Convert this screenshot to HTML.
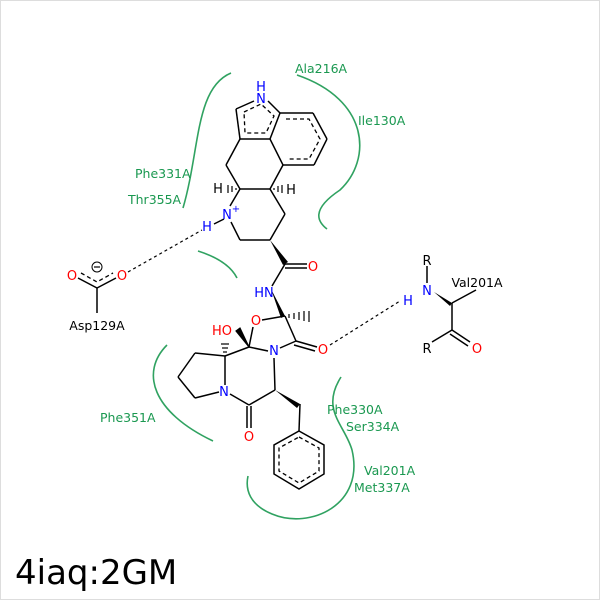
<!DOCTYPE html>
<html><head><style>
html,body{margin:0;padding:0;background:#fff;}
svg text{font-family:"DejaVu Sans","Liberation Sans",sans-serif;}
</style></head><body>
<svg width="600" height="600" viewBox="0 0 600 600" xmlns="http://www.w3.org/2000/svg">
<rect x="0.5" y="0.5" width="599" height="599" fill="#fff" stroke="#ddd"/>
<g fill="none" stroke="#1a9850" stroke-width="1.6" stroke-opacity="0.9">
<path d="M231,73 C195,88 200,150 183,208"/>
<path d="M297,75 C370,100 372,160 340,190 C310,210 318,222 327,229"/>
<path d="M198,251 C220,258 232,268 237,278"/>
<path d="M167,345 C140,372 152,412 213,441"/>
<path d="M341,377 C320,410 345,425 352,450 C365,505 310,530 272,514 C250,505 245,490 248,476"/>
</g>
<g fill="#1a9850" font-size="12.5">
<text x="295" y="73">Ala216A</text>
<text x="358" y="125">Ile130A</text>
<text x="135" y="178">Phe331A</text>
<text x="128" y="204">Thr355A</text>
<text x="100" y="422">Phe351A</text>
<text x="327" y="414">Phe330A</text>
<text x="346" y="431">Ser334A</text>
<text x="364" y="475">Val201A</text>
<text x="354" y="492">Met337A</text>
</g>
<g stroke="#000" stroke-width="1.5" fill="none">
<line x1="236" y1="109" x2="254" y2="101"/>
<line x1="268" y1="101" x2="280" y2="113"/>
<line x1="236" y1="109" x2="240" y2="139"/>
<line x1="240" y1="139" x2="270" y2="139"/>
<line x1="270" y1="139" x2="280" y2="113"/>
<line x1="280" y1="113" x2="313" y2="113"/>
<line x1="313" y1="113" x2="327" y2="139"/>
<line x1="327" y1="139" x2="314" y2="165"/>
<line x1="314" y1="165" x2="283" y2="165"/>
<line x1="283" y1="165" x2="270" y2="139"/>
<line x1="240" y1="139" x2="226" y2="165"/>
<line x1="226" y1="165" x2="240" y2="189"/>
<line x1="240" y1="189" x2="270" y2="189"/>
<line x1="270" y1="189" x2="283" y2="165"/>
<line x1="270" y1="189" x2="285" y2="214"/>
<line x1="285" y1="214" x2="270" y2="240"/>
<line x1="270" y1="240" x2="240" y2="240"/>
<line x1="240" y1="240" x2="231" y2="222"/>
<line x1="240" y1="189" x2="230" y2="206"/>
<line x1="224" y1="219" x2="214" y2="224"/>
<line x1="285" y1="264" x2="307" y2="264"/>
<line x1="285" y1="268" x2="307" y2="268"/>
<line x1="285" y1="264" x2="272" y2="286"/>
<line x1="262" y1="320" x2="285" y2="316"/>
<line x1="253" y1="327" x2="249" y2="347"/>
<line x1="249" y1="347" x2="268" y2="351"/>
<line x1="280" y1="348" x2="296" y2="341"/>
<line x1="285" y1="316" x2="296" y2="341"/>
<line x1="296" y1="341" x2="317" y2="347"/>
<line x1="294" y1="345" x2="315" y2="351"/>
<line x1="249" y1="347" x2="225" y2="356"/>
<line x1="225" y1="356" x2="195" y2="353"/>
<line x1="195" y1="353" x2="178" y2="377"/>
<line x1="178" y1="377" x2="195" y2="398"/>
<line x1="195" y1="398" x2="219" y2="392"/>
<line x1="225" y1="356" x2="225" y2="385"/>
<line x1="230" y1="394" x2="249" y2="405"/>
<line x1="249" y1="405" x2="275" y2="390"/>
<line x1="275" y1="390" x2="274" y2="358"/>
<line x1="247" y1="406" x2="247" y2="428"/>
<line x1="251" y1="406" x2="251" y2="428"/>
<line x1="300" y1="404" x2="299" y2="431"/>
<polygon points="299,431 324,445 324,474 299,489 274,474 274,445"/>
<line x1="78" y1="278" x2="97" y2="288"/>
<line x1="116" y1="278" x2="97" y2="288"/>
<line x1="97" y1="288" x2="97" y2="313"/>
<line x1="427" y1="266" x2="427" y2="283"/>
<line x1="452" y1="303" x2="452" y2="330"/>
<line x1="452" y1="303" x2="476" y2="290"/>
<line x1="452" y1="330" x2="432" y2="342"/>
<line x1="452" y1="330" x2="470" y2="342"/>
<line x1="450" y1="334" x2="468" y2="346"/>
</g>
<g stroke="#000" stroke-width="1.3" fill="none" stroke-dasharray="4,3">
<path d="M244,112 L261,104 L274,116 L266,133 L245,133 Z"/>
<path d="M286,119 L309,119 L320,139 L309,159 L287,159"/>
<polygon points="299,437 319,448 319,471 299,483 279,471 279,448"/>
<path d="M81,273 L97,282 L113,273"/>
</g>
<g stroke="#000" stroke-width="1.2" stroke-dasharray="3,3" fill="none">
<line x1="128" y1="272" x2="202" y2="230"/>
<line x1="330" y1="345" x2="400" y2="301"/>
</g>
<g fill="#000">
<polygon points="270,240 283,265 288,262"/>
<polygon points="271,289 285,316 281,318"/>
<polygon points="275,390 300,404 297,408"/>
<polygon points="434,292 452,303 450,306"/>
</g>
<g stroke="#000" stroke-width="1.2">
<line x1="289" y1="314" x2="289" y2="318"/><line x1="294" y1="313" x2="294" y2="319"/><line x1="299" y1="312" x2="299" y2="320"/><line x1="304" y1="311" x2="304" y2="321"/><line x1="309" y1="311" x2="309" y2="322"/>
<line x1="236" y1="188" x2="236" y2="190"/><line x1="232" y1="186" x2="232" y2="192"/><line x1="228" y1="185" x2="228" y2="193"/>
<line x1="274" y1="188" x2="274" y2="190"/><line x1="278" y1="186" x2="278" y2="192"/><line x1="282" y1="185" x2="282" y2="193"/>
<line x1="223" y1="352" x2="227" y2="352"/><line x1="222" y1="348" x2="228" y2="348"/><line x1="221" y1="344" x2="229" y2="344"/>
<polygon points="249,347 236,331 240,328"/>
</g>
<g font-size="13" text-anchor="middle">
<text x="261" y="91" fill="#0000ff">H</text>
<text x="261" y="103" fill="#0000ff">N</text>
<text x="218" y="193" fill="#000">H</text>
<text x="291" y="194" fill="#000">H</text>
<text x="227" y="219" fill="#0000ff">N</text>
<text x="236" y="212" fill="#0000ff" font-size="10">+</text>
<text x="207" y="231" fill="#0000ff">H</text>
<text x="313" y="271" fill="#ff0000">O</text>
<text x="264" y="297" fill="#0000ff">HN</text>
<text x="256" y="325" fill="#ff0000">O</text>
<text x="222" y="335" fill="#ff0000">HO</text>
<text x="274" y="355" fill="#0000ff">N</text>
<text x="323" y="354" fill="#ff0000">O</text>
<text x="224" y="396" fill="#0000ff">N</text>
<text x="249" y="441" fill="#ff0000">O</text>
<text x="72" y="280" fill="#ff0000">O</text>
<text x="122" y="280" fill="#ff0000">O</text>
<text x="97" y="330" fill="#000" font-size="12.5">Asp129A</text>
<text x="427" y="265" fill="#000">R</text>
<text x="427" y="295" fill="#0000ff">N</text>
<text x="408" y="305" fill="#0000ff">H</text>
<text x="477" y="287" fill="#000" font-size="12.5">Val201A</text>
<text x="427" y="353" fill="#000">R</text>
<text x="477" y="353" fill="#ff0000">O</text>
</g>
<circle cx="97" cy="267" r="5" fill="none" stroke="#000" stroke-width="1"/>
<line x1="94" y1="267" x2="100" y2="267" stroke="#000" stroke-width="1.2"/>
<text x="15" y="584" font-size="34" fill="#000">4iaq:2GM</text>
</svg>
</body></html>
